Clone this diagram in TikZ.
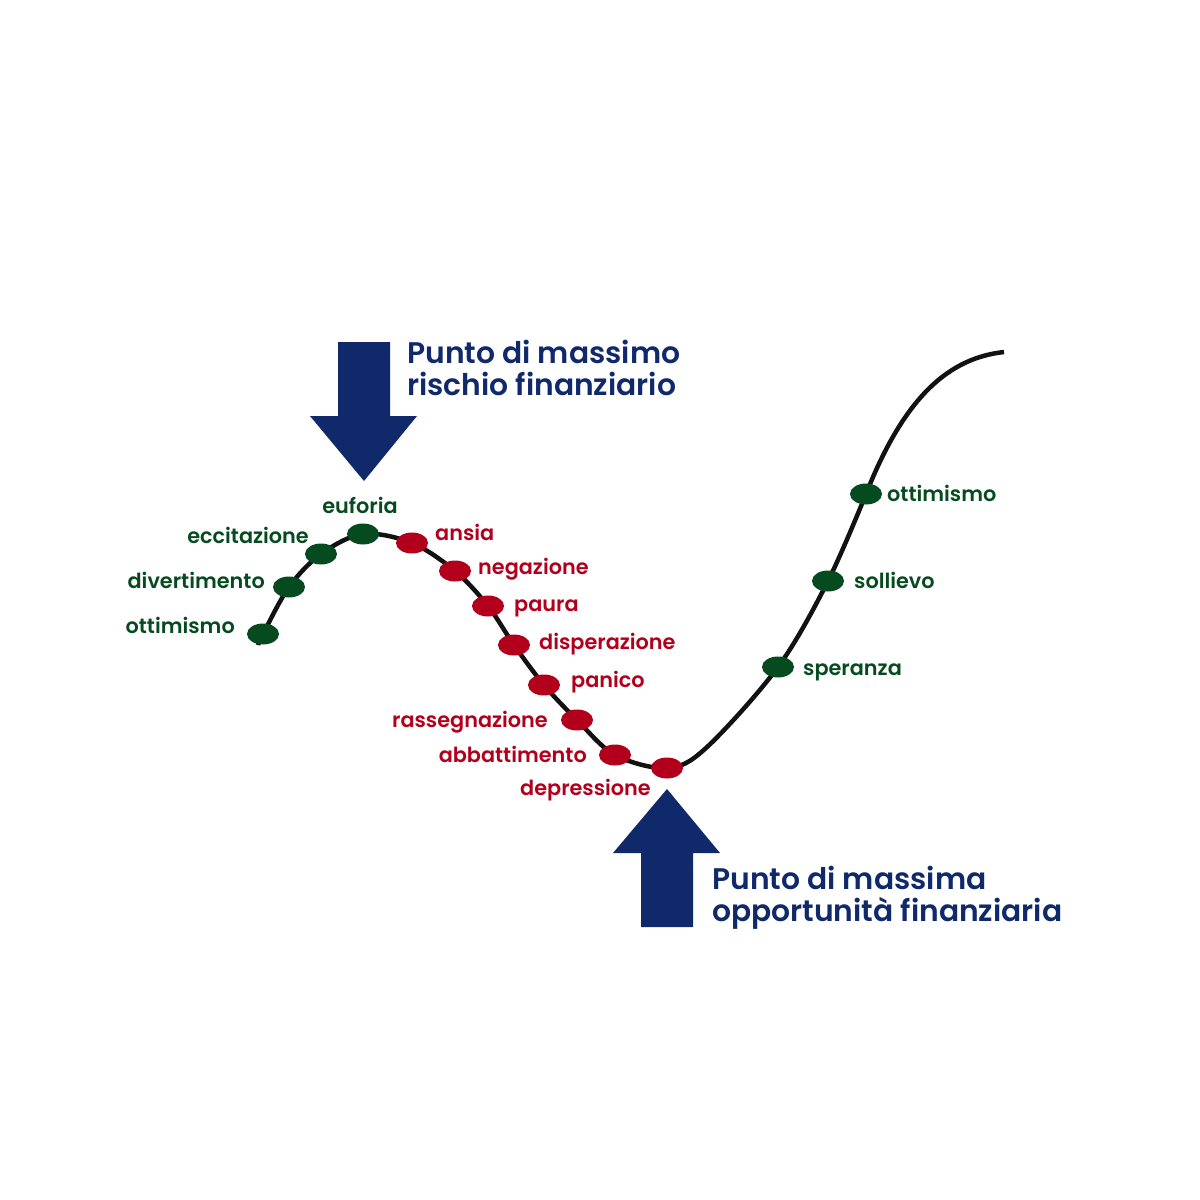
\documentclass[tikz,border=0pt]{standalone}
\usepackage{fontspec}
\setmainfont{Poppins}[UprightFont = * SemiBold]
\usetikzlibrary{shapes.geometric,backgrounds}
\definecolor{navy}{HTML}{0F296B}
\definecolor{leaf}{HTML}{064B20}
\definecolor{wine}{HTML}{B2001C}
\tikzset{
	dot/.style={ellipse, minimum width=32pt, minimum height=21pt, inner sep=0pt},
	good/.style={dot, fill=leaf},
	bad/.style={dot, fill=wine},
	word/.style={inner sep=0pt, font=\fontsize{20.8}{22}\selectfont},
	goodword/.style={word, text=leaf},
	badword/.style={word, text=wine},
	bigword/.style={inner sep=0pt, align=left, text=navy, font=\fontsize{29.8}{32}\selectfont},
	curve/.style={line width=4.5pt, color=black!93}
}

\begin{document}
\begin{tikzpicture}[x=1pt, y=-1pt]
		\useasboundingbox (0,0) rectangle (1200,1200);
		% dots on the curve
		\node (ott1)[good] at (263,634){};
		\node (div)[good] at (289,587){};
		\node (ecc)[good] at (321,554){};
		\node (euf)[good] at (363,534){};
		\node (ans)[bad] at (412,543){};
		\node (neg)[bad] at (455,571){};
		\node (pau)[bad] at (488,606){};
		\node (dis)[bad] at (514,645){};
		\node (pan)[bad] at (544,685){};
		\node (ras)[bad] at (577,720){};
		\node (abb)[bad] at (615,755){};
		\node (dep)[bad] at (667,768){};
		\node (spe)[good] at (778,667){};
		\node (sol)[good] at (828,581){};
		\node (ott2)[good] at (866,494){};
		\coordinate (start) at (258,645);
		\coordinate (top) at (1004,352);
		%
		\begin{scope}[on background layer]
		\draw[curve] plot[smooth, tension=0.55] coordinates {(start) (ott1.center) (div.center) (ecc.center) (euf.center) (ans.center) (neg.center) (pau.center) (dis.center) (pan.center) (ras.center) (abb.center) (dep.center) (706,748) (spe.center) (sol.center) (ott2.center)};
		\draw[curve] (ott2.center) .. controls (905,395) and (950,358) .. (top);
		\end{scope}
		%
		\node [goodword, anchor = base east] at ([shift={(-28,-1)}]ott1.center){ottimismo};
		\node [goodword, anchor = base east] at ([shift={(-24,1)}]div.center){divertimento};
		\node [goodword, anchor = base east] at ([shift={(-12,-11)}]ecc.center){eccitazione};
		\node [goodword, anchor = base] at ([shift={(-3,-21)}]euf.center){euforia};
		\node [badword, anchor = base west] at ([shift={(23,-3)}]ans.center){ansia};
		\node [badword, anchor = base west] at ([shift={(23,3)}]neg.center){negazione};
		\node [badword, anchor = base west] at ([shift={(26,5)}]pau.center){paura};
		\node [badword, anchor = base west] at ([shift={(25,4)}]dis.center){disperazione};
		\node [badword, anchor = base west] at ([shift={(27,2)}]pan.center){panico};
		\node [badword, anchor = base east] at ([shift={(-29,7)}]ras.center){rassegnazione};
		\node [badword, anchor = base east] at ([shift={(-28,7)}]abb.center){abbattimento};
		\node [badword, anchor = base east] at ([shift={(-16,27)}]dep.center){depressione};
		\node [goodword, anchor = base west] at ([shift={(25,8)}]spe.center){speranza};
		\node [goodword, anchor = base west] at ([shift={(26,7)}]sol.center){sollievo};
		\node [goodword, anchor = base west] at ([shift={(21,7)}]ott2.center){ottimismo};
		%
		\fill[navy] (338,342) -- (390,342) -- (390,416) -- (417,416) -- (364,481) -- (310,416) -- (338,416) -- cycle;
		\node (risk)[bigword, anchor = base west] at (407,395){Punto di massimo\\rischio finanziario};
		%
		\fill[navy] (641,927) -- (693,927) -- (693,853) -- (720,853) -- (667,789) -- (613,853) -- (641,853) -- cycle;
		\node (chance)[bigword, anchor = base west] at (712,921){Punto di massima\\opportunità finanziaria};
	\end{tikzpicture}
\end{document}
